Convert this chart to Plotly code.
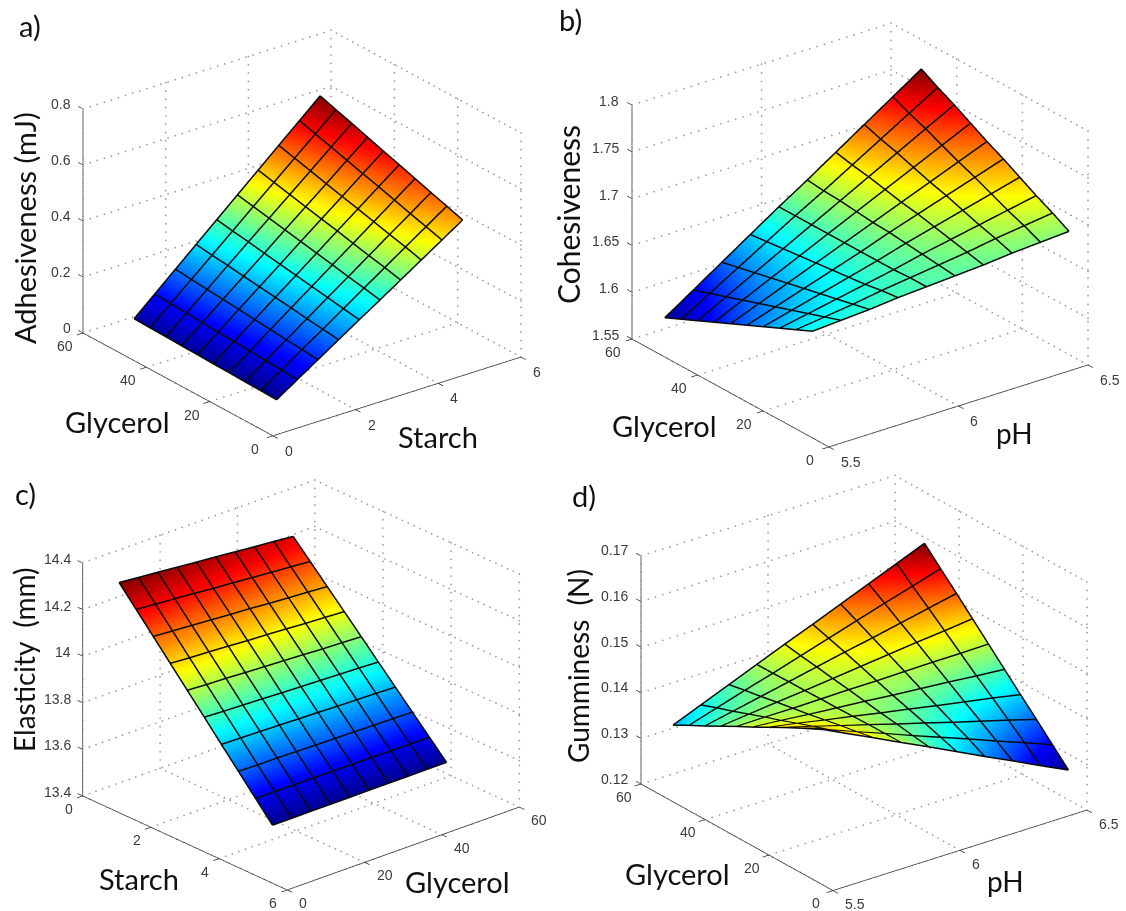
import numpy as np
import plotly.graph_objects as go

W, H = 1126, 911
JET = [[0, "#00008f"], [0.125, "#0000ff"], [0.375, "#00ffff"], [0.625, "#ffff00"], [0.875, "#ff0000"], [1, "#800000"]]

# ---------- panel a ----------
a_starch = [0.7, 1.2, 1.7, 2.2, 2.7, 3.2, 3.7, 4.2, 4.7, 5.2]
a_glycerol = [8, 13, 18, 23, 28, 33, 38, 43, 48, 53]
a_adhesiveness = [
    [.047, .095, .143, .191, .239, .286, .334, .382, .430, .478],
    [.049, .099, .149, .198, .248, .298, .348, .398, .447, .497],
    [.050, .102, .153, .205, .257, .308, .360, .412, .463, .515],
    [.052, .106, .159, .213, .266, .320, .373, .427, .481, .534],
    [.053, .109, .164, .220, .275, .331, .387, .442, .498, .553],
    [.055, .112, .170, .227, .284, .342, .399, .456, .514, .571],
    [.056, .115, .175, .234, .293, .353, .412, .471, .531, .590],
    [.058, .119, .180, .242, .303, .364, .425, .486, .548, .609],
    [.059, .122, .185, .248, .311, .375, .438, .501, .564, .627],
    [.061, .126, .191, .256, .321, .386, .451, .516, .581, .646],
]
# ---------- panel b ----------
b_ph = [5.5, 5.61, 5.72, 5.83, 5.94, 6.05, 6.16, 6.27, 6.38, 6.49]
b_glycerol = [5, 10, 15, 20, 25, 30, 35, 40, 45, 50]
b_cohesiveness = [
    [1.664, 1.666, 1.668, 1.671, 1.673, 1.675, 1.677, 1.680, 1.682, 1.684],
    [1.656, 1.660, 1.664, 1.669, 1.673, 1.677, 1.681, 1.686, 1.690, 1.694],
    [1.648, 1.654, 1.660, 1.666, 1.672, 1.679, 1.685, 1.691, 1.697, 1.703],
    [1.640, 1.648, 1.656, 1.664, 1.672, 1.681, 1.689, 1.697, 1.705, 1.713],
    [1.632, 1.642, 1.652, 1.662, 1.672, 1.683, 1.693, 1.703, 1.713, 1.723],
    [1.624, 1.636, 1.648, 1.660, 1.672, 1.684, 1.696, 1.708, 1.720, 1.732],
    [1.616, 1.630, 1.644, 1.658, 1.672, 1.686, 1.700, 1.714, 1.728, 1.742],
    [1.608, 1.624, 1.640, 1.656, 1.672, 1.688, 1.704, 1.720, 1.736, 1.752],
    [1.600, 1.618, 1.636, 1.654, 1.672, 1.689, 1.707, 1.725, 1.743, 1.761],
    [1.592, 1.612, 1.632, 1.652, 1.672, 1.691, 1.711, 1.731, 1.751, 1.771],
]
# ---------- panel c ----------
c_starch = [0.5, 1, 1.5, 2, 2.5, 3, 3.5, 4, 4.5, 5]
c_glycerol = [5, 10, 15, 20, 25, 30, 35, 40, 45, 50]
c_elasticity = [
    [14.320, 14.238, 14.156, 14.074, 13.992, 13.910, 13.827, 13.745, 13.663, 13.581],
    [14.312, 14.231, 14.150, 14.068, 13.987, 13.906, 13.825, 13.743, 13.662, 13.581],
    [14.305, 14.225, 14.144, 14.064, 13.984, 13.903, 13.823, 13.743, 13.662, 13.582],
    [14.297, 14.218, 14.138, 14.059, 13.979, 13.900, 13.821, 13.741, 13.662, 13.582],
    [14.289, 14.210, 14.132, 14.053, 13.975, 13.896, 13.818, 13.739, 13.661, 13.582],
    [14.282, 14.204, 14.127, 14.049, 13.971, 13.893, 13.816, 13.738, 13.660, 13.583],
    [14.274, 14.197, 14.120, 14.044, 13.967, 13.890, 13.813, 13.737, 13.660, 13.583],
    [14.266, 14.190, 14.114, 14.038, 13.962, 13.887, 13.811, 13.735, 13.659, 13.583],
    [14.259, 14.184, 14.109, 14.034, 13.959, 13.884, 13.809, 13.734, 13.659, 13.584],
    [14.251, 14.177, 14.103, 14.029, 13.955, 13.880, 13.806, 13.732, 13.658, 13.584],
]
# ---------- panel d ----------
d_ph = [5.5, 5.61, 5.72, 5.83, 5.94, 6.05, 6.16, 6.27, 6.38, 6.49]
d_glycerol = [5, 10, 15, 20, 25, 30, 35, 40, 45, 50]
d_gumminess = [
    [.1536, .1506, .1477, .1447, .1418, .1388, .1358, .1329, .1299, .1270],
    [.1517, .1494, .1470, .1447, .1423, .1400, .1377, .1353, .1330, .1306],
    [.1499, .1482, .1464, .1447, .1429, .1412, .1394, .1377, .1360, .1342],
    [.1480, .1469, .1457, .1446, .1434, .1423, .1411, .1400, .1389, .1377],
    [.1461, .1456, .1450, .1445, .1440, .1434, .1429, .1424, .1418, .1413],
    [.1443, .1444, .1444, .1445, .1446, .1446, .1447, .1448, .1448, .1449],
    [.1424, .1431, .1438, .1444, .1451, .1458, .1465, .1472, .1478, .1485],
    [.1405, .1418, .1431, .1444, .1457, .1470, .1482, .1495, .1508, .1521],
    [.1387, .1406, .1425, .1443, .1462, .1481, .1500, .1519, .1537, .1556],
    [.1368, .1393, .1418, .1443, .1468, .1492, .1517, .1542, .1567, .1592],
]

PAD = 0.04
TICK = 0.025
DOT_STEP = 0.028
LIFT = 0.006   # mesh lines sit this far in front of the surface, along the line of sight

panels = [
    dict(x=a_starch, y=a_glycerol, z=a_adhesiveness,
         xt=[0, 2, 4, 6], yt=[0, 20, 40, 60], zt=[0, .2, .4, .6, .8],
         xl=["0", "2", "4", "6"], yl=["0", "20", "40", "60"], zl=["0", "0.2", "0.4", "0.6", "0.8"],
         h=(-.608, -.794), el=24.5, k=312.4, zasp=.788, c=(302, 233), hh=233,
         near_x=0, near_y=0, zcorner=(0, 60), ztick=(0, 1.5), xlab=(10, -15), ylab=(-18, -13), zlab=(-10, 5)),
    dict(x=b_ph, y=b_glycerol, z=b_cohesiveness,
         xt=[5.5, 6, 6.5], yt=[0, 20, 40, 60], zt=[1.55, 1.6, 1.65, 1.7, 1.75, 1.8],
         xl=["5.5", "6", "6.5"], yl=["0", "20", "40", "60"], zl=["1.55", "1.6", "1.65", "1.7", "1.75", "1.8"],
         h=(-.605, -.796), el=24.6, k=325.4, zasp=.791, c=(860, 235), hh=235,
         near_x=5.5, near_y=0, zcorner=(5.5, 60), ztick=(0, 1.5), xlab=(10, -15), ylab=(-19, -13), zlab=(-11, 4)),
    dict(x=c_starch, y=c_glycerol, z=c_elasticity,
         xt=[0, 2, 4, 6], yt=[0, 20, 40, 60], zt=[13.4, 13.6, 13.8, 14, 14.2, 14.4],
         xl=["0", "2", "4", "6"], yl=["0", "20", "40", "60"], zl=["13.4", "13.6", "13.8", "14", "14.2", "14.4"],
         h=(.75, -.661), el=23.9, k=309.3, zasp=.824, c=(301, 685), hh=226,
         near_x=6, near_y=0, zcorner=(0, 0), ztick=(-.15, 0), xlab=(-14, -13), ylab=(10, -13), zlab=(-10, 4)),
    dict(x=d_ph, y=d_glycerol, z=d_gumminess,
         xt=[5.5, 6, 6.5], yt=[0, 20, 40, 60], zt=[.12, .13, .14, .15, .16, .17],
         xl=["5.5", "6", "6.5"], yl=["0", "20", "40", "60"], zl=["0.12", "0.13", "0.14", "0.15", "0.16", "0.17"],
         h=(-.603, -.798), el=24.8, k=318.4, zasp=.789, c=(864, 682.5), hh=228,
         near_x=5.5, near_y=0, zcorner=(5.5, 60), ztick=(0, 1.5), xlab=(10, -14), ylab=(-17, -13), zlab=(-11, 5)),
]

titles = [
    ("a)", 30, 25, 0, 29), ("Adhesiveness (mJ)", 24, 228, -90, 29), ("Glycerol", 117, 422, 0, 29), ("Starch", 438, 436, 0, 29),
    ("b)", 570, 20, 0, 29), ("Cohesiveness", 568, 215, -90, 30), ("Glycerol", 664, 425, 0, 29), ("pH", 1014, 433, 0, 28),
    ("c)", 25, 493, 0, 29), ("Elasticity  (mm)", 24, 660, -90, 28), ("Starch", 139, 878, 0, 29), ("Glycerol", 457, 881, 0, 29),
    ("d)", 584, 495, 0, 29), ("Gumminess  (N)", 578, 666, -90, 28), ("Glycerol", 677, 873, 0, 29), ("pH", 1005, 881, 0, 28),
]


def seg(points):
    xs, ys, zs = [], [], []
    for p in points:
        for q in p:
            xs.append(q[0]); ys.append(q[1]); zs.append(q[2])
        xs.append(None); ys.append(None); zs.append(None)
    return xs, ys, zs


def dots(paths, sizes):
    """Turn gridline paths along the walls into evenly spaced dots."""
    xs, ys, zs = [], [], []
    for path in paths:
        for a, b in zip(path[:-1], path[1:]):
            a, b = np.array(a, float), np.array(b, float)
            n = max(2, int(round(np.abs((b - a) / sizes).sum() / DOT_STEP)))
            for f in np.linspace(0, 1, n):
                q = a + (b - a) * f
                xs.append(q[0]); ys.append(q[1]); zs.append(q[2])
    return xs, ys, zs


fig = go.Figure()
layout = {}
HALF_W = 255

for idx, p in enumerate(panels):
    name = "scene" if idx == 0 else f"scene{idx+1}"
    xt, yt, zt = p["xt"], p["yt"], p["zt"]
    x0, x1 = xt[0], xt[-1]
    y0, y1 = yt[0], yt[-1]
    z0, z1 = zt[0], zt[-1]
    nx, ny = p["near_x"], p["near_y"]
    fx = x1 if nx == x0 else x0      # far wall in x
    fy = y1 if ny == y0 else y0      # far wall in y
    zcx, zcy = p["zcorner"]
    hx, hy = p["h"]
    el = np.radians(p["el"])

    zz = np.array(p["z"])
    fig.add_trace(go.Surface(
        x=p["x"], y=p["y"], z=p["z"], scene=name, colorscale=JET, cmin=zz.min(), cmax=zz.max(),
        showscale=False, hoverinfo="skip",
        lighting=dict(ambient=1, diffuse=0, specular=0, roughness=1, fresnel=0),
        contours=dict(x=dict(highlight=False), y=dict(highlight=False), z=dict(highlight=False)),
    ))

    # surface mesh lines, one polyline per row and column of the table
    lx = LIFT * hx * np.cos(el) * (x1 - x0)
    ly = LIFT * hy * np.cos(el) * (y1 - y0)
    lz = LIFT * np.sin(el) * (z1 - z0) / p["zasp"]
    mesh = []
    for j, yv in enumerate(p["y"]):
        mesh.append([(xv + lx, yv + ly, p["z"][j][i] + lz) for i, xv in enumerate(p["x"])])
    for i, xv in enumerate(p["x"]):
        mesh.append([(xv + lx, yv + ly, p["z"][j][i] + lz) for j, yv in enumerate(p["y"])])
    mx, my, mz = seg(mesh)
    fig.add_trace(go.Scatter3d(x=mx, y=my, z=mz, scene=name, mode="lines", hoverinfo="skip",
                               showlegend=False, line=dict(color="#0a0a0a", width=3)))

    # dotted grid on the two far walls and the floor
    grid = []
    for t in xt:
        grid.append([(t, ny, z0), (t, fy, z0), (t, fy, z1)])
    for t in yt:
        grid.append([(nx, t, z0), (fx, t, z0), (fx, t, z1)])
    for t in zt:
        grid.append([(nx, fy, t), (fx, fy, t), (fx, ny, t)])
    gx, gy, gz = dots(grid, np.array([x1 - x0, y1 - y0, (z1 - z0) / p["zasp"]]))
    fig.add_trace(go.Scatter3d(x=gx, y=gy, z=gz, scene=name, mode="markers", hoverinfo="skip",
                               showlegend=False, marker=dict(color="#9a9a9a", size=1, line=dict(width=0))))

    # solid axes and tick marks
    dx = (x1 - x0) * TICK * (-1 if nx == x1 else 1)
    dy = (y1 - y0) * TICK
    solid = [
        [(x0, ny, z0), (x1, ny, z0)],
        [(nx, y0, z0), (nx, y1, z0)],
        [(zcx, zcy, z0), (zcx, zcy, z1)],
    ]
    for t in xt:
        solid.append([(t, ny, z0), (t, ny - dy, z0)])
    for t in yt:
        solid.append([(nx, t, z0), (nx - dx, t, z0)])
    for t in zt:
        solid.append([(zcx, zcy, t), (zcx + p["ztick"][0], zcy + p["ztick"][1], t)])
    sx, sy, sz = seg(solid)
    fig.add_trace(go.Scatter3d(x=sx, y=sy, z=sz, scene=name, mode="lines", hoverinfo="skip",
                               showlegend=False, line=dict(color="#303030", width=1.5)))

    # tick labels bound to the axes
    anns = []
    tf = dict(family="Liberation Sans", size=14, color="#3a3a3a")
    for t, l in zip(xt, p["xl"]):
        a = "left" if p["xlab"][0] > 0 else "center"
        anns.append(dict(x=t, y=ny, z=z0, text=l, showarrow=False, font=tf, xanchor=a, yanchor="middle",
                         xshift=p["xlab"][0], yshift=p["xlab"][1]))
    for t, l in zip(yt, p["yl"]):
        a = "left" if p["ylab"][0] > 0 else "center"
        anns.append(dict(x=nx, y=t, z=z0, text=l, showarrow=False, font=tf, xanchor=a, yanchor="middle",
                         xshift=p["ylab"][0], yshift=p["ylab"][1]))
    for t, l in zip(zt, p["zl"]):
        anns.append(dict(x=zcx, y=zcy, z=t, text=l, showarrow=False, font=tf, xanchor="right", yanchor="middle",
                         xshift=p["zlab"][0], yshift=p["zlab"][1]))

    xp, yp, zp = (x1 - x0) * PAD, (y1 - y0) * PAD, (z1 - z0) * PAD
    d = 3
    eye = dict(x=d * hx * np.cos(el), y=d * hy * np.cos(el), z=d * np.sin(el))
    ax = dict(visible=False, showspikes=False)
    cx, cy = p["c"]
    scale = p["k"] / p["hh"] * (1 + 2 * PAD)   # orthographic zoom follows the aspect ratio
    layout[name] = dict(
        domain=dict(x=[(cx - HALF_W) / W, (cx + HALF_W) / W], y=[1 - (cy + p["hh"]) / H, 1 - (cy - p["hh"]) / H]),
        xaxis=dict(range=[x0 - xp, x1 + xp], **ax),
        yaxis=dict(range=[y0 - yp, y1 + yp], **ax),
        zaxis=dict(range=[z0 - zp, z1 + zp], **ax),
        aspectmode="manual",
        aspectratio=dict(x=scale, y=scale, z=p["zasp"] * scale),
        camera=dict(eye=eye, up=dict(x=0, y=0, z=1), center=dict(x=0, y=0, z=0), projection=dict(type="orthographic")),
        annotations=anns,
        bgcolor="white",
        dragmode=False,
    )

annotations = []
for text, px, py, rot, size in titles:
    annotations.append(dict(text=text, x=px / W, y=1 - py / H, xref="paper", yref="paper", showarrow=False,
                            xanchor="center", yanchor="middle", textangle=rot,
                            font=dict(family="Lato", size=size, color="#111111")))

fig.update_layout(width=W, height=H, margin=dict(l=0, r=0, t=0, b=0), paper_bgcolor="white",
                  showlegend=False, annotations=annotations, **layout)
fig.write_html("out.html", config=dict(displayModeBar=False),
               post_script="document.body.style.margin='0';document.body.style.overflow='hidden';")
